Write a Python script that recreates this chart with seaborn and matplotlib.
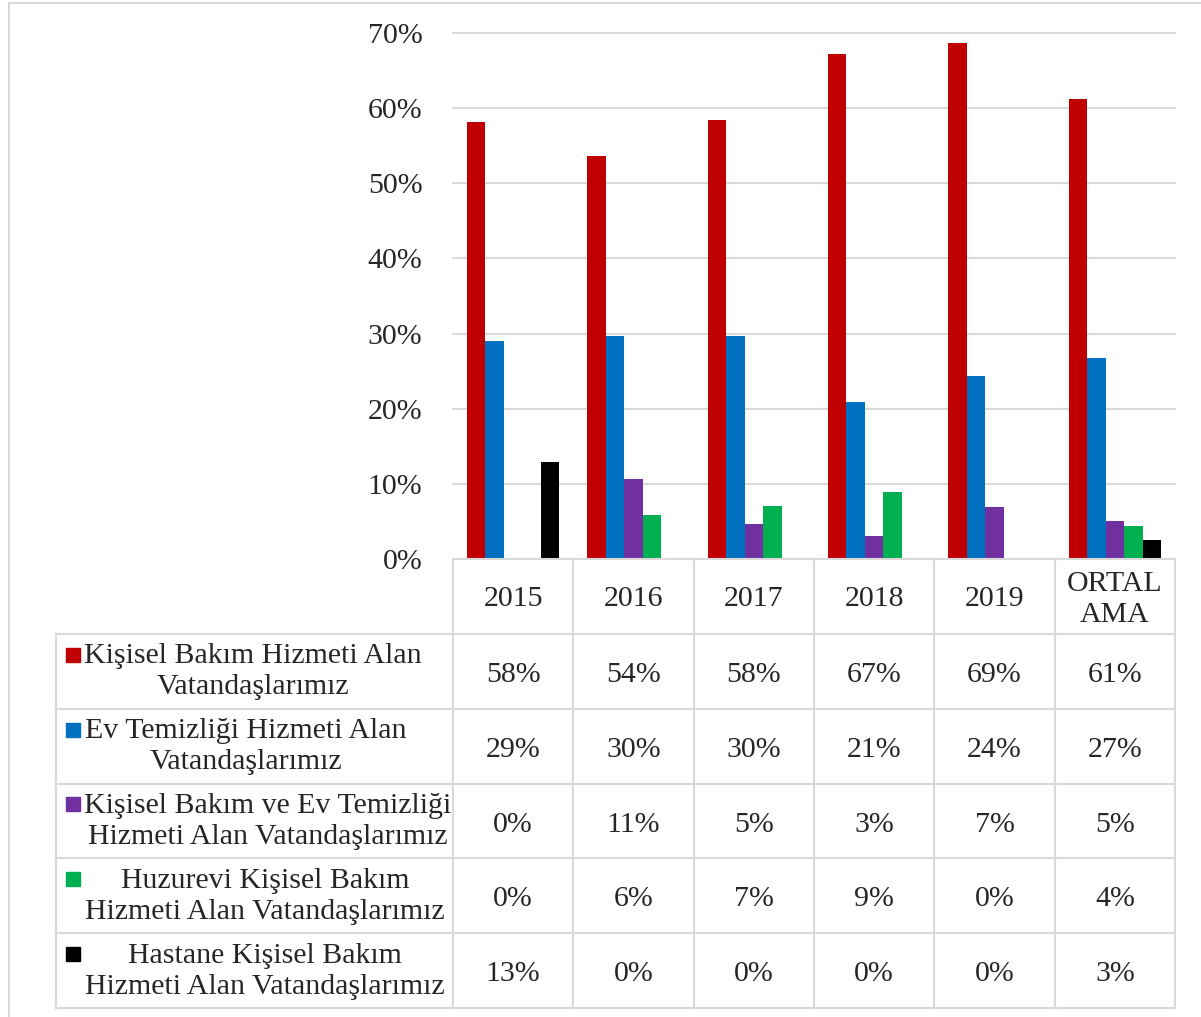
import matplotlib
matplotlib.use("Agg")
import pandas as pd
import matplotlib.pyplot as plt
import seaborn as sns
from matplotlib.patches import Rectangle
from matplotlib.ticker import PercentFormatter

# Data (fractions)
years = ["2015", "2016", "2017", "2018", "2019", "ORTALAMA"]
header_labels = ["2015", "2016", "2017", "2018", "2019", "ORTAL\nAMA"]
series = [
    "Kişisel Bakım Hizmeti Alan Vatandaşlarımız",
    "Ev Temizliği Hizmeti Alan Vatandaşlarımız",
    "Kişisel Bakım ve Ev Temizliği Hizmeti Alan Vatandaşlarımız",
    "Huzurevi Kişisel Bakım Hizmeti Alan Vatandaşlarımız",
    "Hastane Kişisel Bakım Hizmeti Alan Vatandaşlarımız",
]
legend_labels = [
    "Kişisel Bakım Hizmeti Alan\nVatandaşlarımız",
    "Ev Temizliği Hizmeti Alan\nVatandaşlarımız",
    "Kişisel Bakım ve Ev Temizliği\nHizmeti Alan Vatandaşlarımız",
    "Huzurevi Kişisel Bakım\nHizmeti Alan Vatandaşlarımız",
    "Hastane Kişisel Bakım\nHizmeti Alan Vatandaşlarımız",
]
kisisel_bakim = [0.582, 0.536, 0.584, 0.672, 0.687, 0.612]
ev_temizligi = [0.290, 0.297, 0.297, 0.209, 0.244, 0.268]
kisisel_ve_ev = [0.0, 0.1065, 0.047, 0.030, 0.069, 0.050]
huzurevi = [0.0, 0.0586, 0.0705, 0.0896, 0.0, 0.0435]
hastane = [0.1287, 0.0, 0.0, 0.0, 0.0, 0.0253]
colors = ["#C00000", "#0070C0", "#7030A0", "#00B050", "#000000"]

values = [kisisel_bakim, ev_temizligi, kisisel_ve_ev, huzurevi, hastane]
df = pd.DataFrame(
    [(s, y, v) for s, vals in zip(series, values) for y, v in zip(years, vals)],
    columns=["series", "year", "value"],
)

sns.set_style("white")
plt.rcParams["font.family"] = ["Liberation Serif", "DejaVu Serif"]
FS = 21.5
LS = 1.25
GRID = "#D9D9D9"

W, H = 1201, 1017
fig = plt.figure(figsize=(W / 100, H / 100), dpi=100)

# outer chart frame
fig.patches.append(Rectangle((9 / W, -0.05), 1.2, 1 - 3 / H + 0.05,
                             transform=fig.transFigure, fill=False,
                             ec=GRID, lw=1.5))

# bar area
x0, x1, y_top, y_zero = 453, 1175, 33, 559
ax = fig.add_axes([x0 / W, 1 - y_zero / H, (x1 - x0) / W, (y_zero - y_top) / H])
sns.barplot(data=df, x="year", y="value", hue="series", order=years,
            hue_order=series, palette=colors, width=0.77, saturation=1,
            linewidth=0, legend=False, ax=ax)
ax.set_xlim(-0.5, 5.5)
ax.set_ylim(0, 0.7)
ax.set_yticks([i / 10 for i in range(8)])
ax.yaxis.set_major_formatter(PercentFormatter(1, decimals=0))
ax.tick_params(axis="y", length=0, pad=22, labelsize=FS)
ax.set_xticks([])
ax.set_xlabel("")
ax.set_ylabel("")
ax.yaxis.grid(True, color=GRID, lw=1.5)
ax.set_axisbelow(True)
for sp in ax.spines.values():
    sp.set_visible(False)
for gl in ax.get_ygridlines():
    gl.set_clip_on(False)

# data table below
col_w = (x1 - x0) / 6
tx0, ty1 = 56, 1008
left = -0.5 - (x0 - tx0) / col_w
tax = fig.add_axes([tx0 / W, 1 - ty1 / H, (x1 - tx0) / W, (ty1 - y_zero) / H])
tax.set_xlim(left, 5.5)
tax.set_ylim(6, 0)
tax.axis("off")

line_kw = dict(color=GRID, lw=1.5, clip_on=False, solid_capstyle="projecting")
tax.plot([-0.5, 5.5], [0, 0], **line_kw)
for r in range(1, 7):
    tax.plot([left, 5.5], [r, r], **line_kw)
for k in range(7):
    tax.plot([k - 0.5, k - 0.5], [0, 6], **line_kw)
tax.plot([left, left], [1, 6], **line_kw)

for i, lab in enumerate(header_labels):
    tax.text(i, 0.54, lab, ha="center", va="center", fontsize=FS,
             linespacing=LS)

# legend-cell text centres in pixels (Excel centres each wrapped label)
text_px = [253, 246, 268, 265, 265]
mark_x = left + (73 - tx0) / col_w
for r, (lab, vals, c, px) in enumerate(
        zip(legend_labels, values, colors, text_px), start=1):
    tax.plot([mark_x], [r + 0.28], marker="s", ms=10, color=c, ls="none")
    tax.text(left + (px - tx0) / col_w, r + 0.51, lab, ha="center",
             va="center", fontsize=FS, multialignment="center",
             linespacing=LS)
    for i, v in enumerate(vals):
        tax.text(i, r + 0.55, f"{v * 100:.0f}%", ha="center", va="center",
                 fontsize=FS)

fig.savefig("out.png", dpi=100)
